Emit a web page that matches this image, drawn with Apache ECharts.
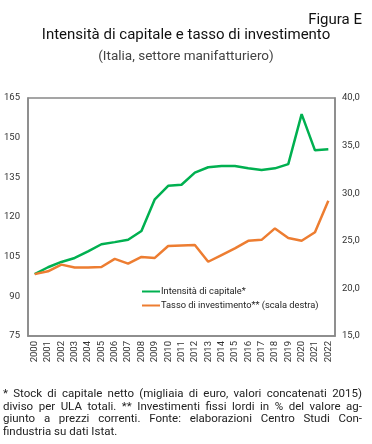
<!DOCTYPE html>
<html><head><meta charset="utf-8">
<script src="https://cdn.jsdelivr.net/npm/echarts@6/dist/echarts.min.js"></script>
<style>html,body{margin:0;padding:0;background:#fff}#c{width:372px;height:444px}</style>
</head><body><div id="c"></div>
<script>
const years = ['2000','2001','2002','2003','2004','2005','2006','2007','2008','2009','2010','2011','2012','2013','2014','2015','2016','2017','2018','2019','2020','2021','2022'];
const intensita = [98.4,101.0,103.0,104.5,107.0,109.7,110.5,111.4,114.7,126.7,131.8,132.2,136.8,138.8,139.3,139.3,138.4,137.8,138.4,140.0,158.9,145.2,145.6];
const tasso = [21.5,21.8,22.5,22.2,22.2,22.25,23.1,22.6,23.3,23.2,24.45,24.5,24.55,22.8,23.5,24.2,25.0,25.1,26.3,25.3,25.0,25.9,29.2];
const leftTicks = {min:75, max:165, interval:15};
const rightTicks = {min:15, max:40, interval:5};
const footLines = [
 '* Stock di capitale netto (migliaia di euro, valori concatenati 2015)',
 'diviso per ULA totali. ** Investimenti fissi lordi in % del valore ag-',
 'giunto a prezzi correnti. Fonte: elaborazioni Centro Studi Con-',
 'findustria su dati Istat.'
];
const FONT = 'Roboto';
const chart = echarts.init(document.getElementById('c'));
const graphics = [
 {type:'text', right:10, top:13, style:{text:'Figura E', font:'15px '+FONT, fill:'#111'}},
 {type:'text', left:'center', top:28, style:{text:'Intensità di capitale e tasso di investimento', font:'15px '+FONT, fill:'#111'}},
 {type:'text', left:'center', top:50, style:{text:'(Italia, settore manifatturiero)', font:'13.5px '+FONT, fill:'#444'}}
];
// justified footnote
const footFont = '11.5px ' + FONT;
const cv = document.createElement('canvas').getContext('2d');
cv.font = footFont;
const fx0 = 3, fx1 = 362;
footLines.forEach((t,i)=>{
  const y = 388 + i*12.8;
  if (i === footLines.length - 1) {
    graphics.push({type:'text', left:fx0, top:y, style:{text:t, font:footFont, fill:'#222'}});
    return;
  }
  const words = t.split(' ');
  const wsum = words.reduce((s,w)=>s+cv.measureText(w).width,0);
  const gap = (fx1 - fx0 - wsum) / (words.length - 1);
  let x = fx0;
  words.forEach(w=>{
    graphics.push({type:'text', left:x, top:y, style:{text:w, font:footFont, fill:'#222'}});
    x += cv.measureText(w).width + gap;
  });
});
chart.setOption({
 animation:false,
 textStyle:{fontFamily:FONT},
 grid:{left:28, right:37, top:98, bottom:108, show:true, borderColor:'#888', borderWidth:1.5},
 legend:{show:true, left:137, top:282, orient:'vertical', itemWidth:18, itemHeight:2, itemGap:5,
   icon:'rect', textStyle:{fontSize:9.3, color:'#222', padding:[0,0,0,-4]}, data:['Intensità di capitale*','Tasso di investimento** (scala destra)']},
 xAxis:{type:'category', data:years, boundaryGap:true,
   axisLine:{lineStyle:{color:'#888', width:1.5}}, axisTick:{show:false},
   axisLabel:{rotate:90, fontSize:9.5, color:'#333', margin:5, interval:0}},
 yAxis:[
  {type:'value', min:leftTicks.min, max:leftTicks.max, interval:leftTicks.interval, position:'left',
   axisLine:{show:true, lineStyle:{color:'#888', width:1.5}}, axisTick:{show:false}, splitLine:{show:false},
   axisLabel:{fontSize:9.5, color:'#333', margin:8}},
  {type:'value', min:rightTicks.min, max:rightTicks.max, interval:rightTicks.interval, position:'right',
   axisLine:{show:true, lineStyle:{color:'#888', width:1.5}}, axisTick:{show:false}, splitLine:{show:false},
   axisLabel:{fontSize:9.5, color:'#333', margin:7, formatter:v=>v.toFixed(1).replace('.',',')}}
 ],
 series:[
  {name:'Intensità di capitale*', type:'line', data:intensita, yAxisIndex:0, symbol:'none', lineStyle:{color:'#00B050', width:2.5}, itemStyle:{color:'#00B050'}},
  {name:'Tasso di investimento** (scala destra)', type:'line', data:tasso, yAxisIndex:1, symbol:'none', lineStyle:{color:'#ED7D31', width:2.5}, itemStyle:{color:'#ED7D31'}}
 ],
 graphic:graphics
});
</script></body></html>
